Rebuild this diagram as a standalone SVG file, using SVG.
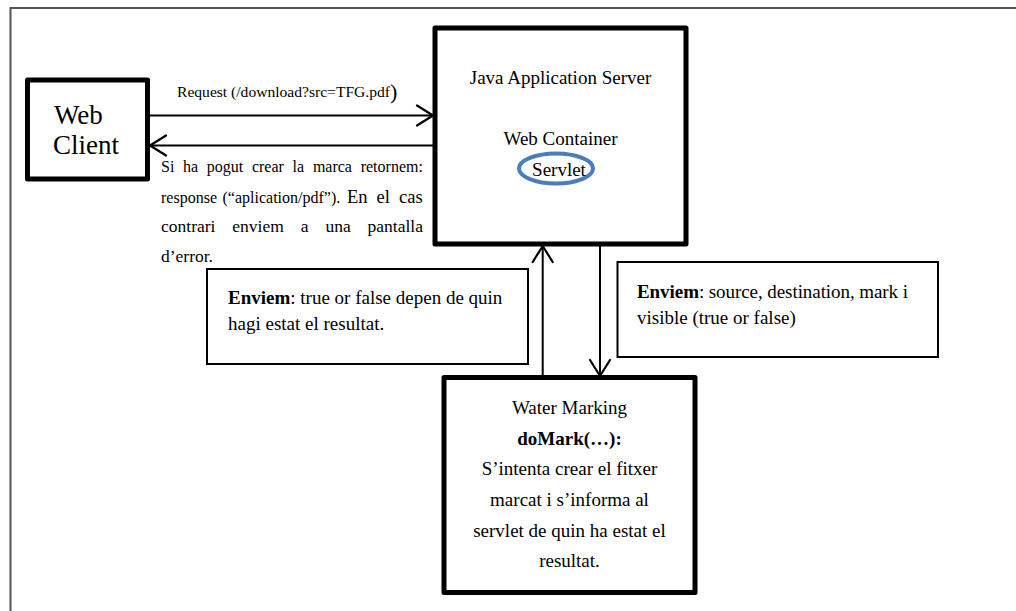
<svg xmlns="http://www.w3.org/2000/svg" width="1016" height="611" viewBox="0 0 1016 611">
<defs>
<style>
text { font-family: "Liberation Serif", "Times New Roman", serif; fill: #000; }
.node { fill: #fff; stroke: #000; stroke-width: 5; stroke-linejoin: round; }
.note { fill: #fff; stroke: #000; stroke-width: 2; }
.conn { stroke: #000; stroke-width: 2; fill: none; marker-end: url(#chev); }
.frame { stroke: #555; stroke-width: 2; fill: none; }
.t19 { font-size: 19px; }
.mid { text-anchor: middle; }
</style>
<marker id="chev" markerUnits="userSpaceOnUse" markerWidth="22" markerHeight="24" viewBox="0 0 22 24" refX="18" refY="12" orient="auto">
<path d="M2,2 L18,12 L2,22" fill="none" stroke="#000" stroke-width="2.2" stroke-linecap="round" stroke-linejoin="round"/>
</marker>
</defs>
<rect width="1016" height="611" fill="#fff"/>
<g id="frame">
<path class="frame" d="M10.5,611 V8 H1016"/>
</g>
<g id="connectors">
<line id="request" class="conn" x1="150" y1="115.5" x2="433" y2="115.5"/>
<line id="response" class="conn" x1="433" y1="145.5" x2="150" y2="145.5"/>
<line id="result-up" class="conn" x1="542.7" y1="377" x2="542.7" y2="246"/>
<line id="params-down" class="conn" x1="600" y1="241" x2="600" y2="376"/>
</g>
<g id="request-label">
<text x="177" y="97" font-size="15.5" textLength="213" lengthAdjust="spacingAndGlyphs">Request (/download?src=TFG.pdf</text>
<text x="390" y="99" font-size="22">)</text>
</g>
<g id="response-label">
<text y="172" font-size="16"><tspan x="161">Si</tspan><tspan x="183">ha</tspan><tspan x="206.8">pogut</tspan><tspan x="251.9">crear</tspan><tspan x="292.6">la</tspan><tspan x="312.9">marca</tspan><tspan x="360.7">retornem:</tspan></text>
<text y="202.5"><tspan x="161" font-size="16">response</tspan><tspan x="222.5" font-size="16">(“aplication/pdf”).</tspan><tspan x="347" font-size="18.5">En</tspan><tspan x="376.5" font-size="18.5">el</tspan><tspan x="399" font-size="18.5">cas</tspan></text>
<text y="232" font-size="17.5"><tspan x="161">contrari</tspan><tspan x="232.3">enviem</tspan><tspan x="300.7">a</tspan><tspan x="325.4">una</tspan><tspan x="367.6">pantalla</tspan></text>
<text x="161" y="262" font-size="17.5">d’error.</text>
</g>
<g id="web-client">
<rect class="node" x="27.5" y="80" width="120" height="99"/>
<text x="54" y="123.5" font-size="27">Web</text>
<text x="53" y="153.5" font-size="27">Client</text>
</g>
<g id="app-server">
<rect class="node" x="435" y="28" width="251" height="216"/>
<text class="t19 mid" x="560.5" y="84">Java Application Server</text>
<text class="t19 mid" x="560.5" y="145">Web Container</text>
<ellipse id="servlet" cx="556" cy="168.5" rx="37" ry="15" fill="none" stroke="#4a7ebb" stroke-width="4"/>
<text class="t19 mid" x="559" y="175.5">Servlet</text>
</g>
<g id="water-marking">
<rect class="node" x="444" y="377.5" width="251" height="215"/>
<text class="t19 mid" x="569.5" y="414">Water Marking</text>
<text class="t19 mid" x="569.5" y="445" font-weight="bold">doMark(…):</text>
<text class="t19 mid" x="569.5" y="475">S’intenta crear el fitxer</text>
<text class="t19 mid" x="569.5" y="505.5">marcat i s’informa al</text>
<text class="t19 mid" x="569.5" y="536.5">servlet de quin ha estat el</text>
<text class="t19 mid" x="569.5" y="566.5">resultat.</text>
</g>
<g id="note-result">
<rect class="note" x="207" y="269" width="321" height="95"/>
<text class="t19" x="228" y="304"><tspan font-weight="bold">Enviem</tspan>: true or false depen de quin</text>
<text class="t19" x="228" y="330">hagi estat el resultat.</text>
</g>
<g id="note-params">
<rect class="note" x="617.5" y="262" width="320.5" height="95"/>
<text class="t19" x="637" y="298" textLength="271" lengthAdjust="spacing"><tspan font-weight="bold">Enviem</tspan>: source, destination, mark i</text>
<text class="t19" x="637" y="324">visible (true or false)</text>
</g>
</svg>
